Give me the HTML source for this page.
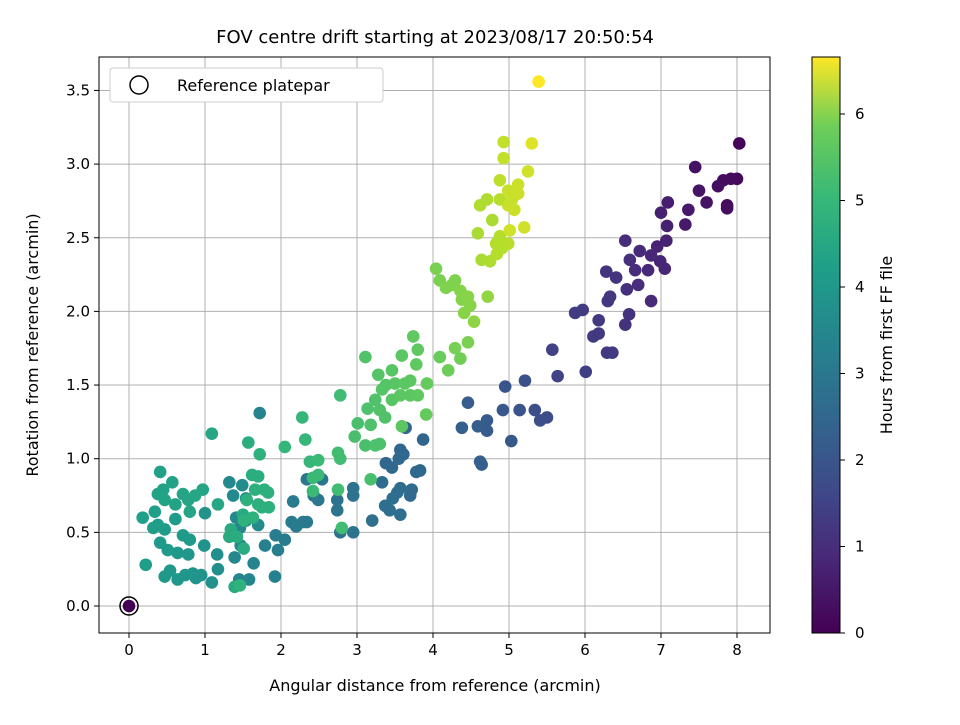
<!DOCTYPE html>
<html><head><meta charset="utf-8"><style>body{margin:0;background:#fff}svg{font-family:"DejaVu Sans","Liberation Sans",sans-serif}</style></head>
<body>
<svg id="chart" width="960" height="720">
<defs><linearGradient id="vir" x1="0" y1="1" x2="0" y2="0">
<stop offset="0" stop-color="#440154"/><stop offset="0.13" stop-color="#482878"/><stop offset="0.25" stop-color="#3e4a89"/><stop offset="0.38" stop-color="#31688e"/><stop offset="0.5" stop-color="#26828e"/><stop offset="0.63" stop-color="#1f9e89"/><stop offset="0.75" stop-color="#35b779"/><stop offset="0.88" stop-color="#6ece58"/><stop offset="1" stop-color="#fde725"/></linearGradient></defs>
<g id="grid"></g>
<g id="pts"></g>
<rect x="99" y="57" width="671" height="576" fill="none" stroke="#000" stroke-width="1"/>
<g id="axes"></g>
<text x="435" y="43" font-size="18" text-anchor="middle">FOV centre drift starting at 2023/08/17 20:50:54</text>
<text x="435" y="691" font-size="16" text-anchor="middle">Angular distance from reference (arcmin)</text>
<text x="38" y="345" font-size="16" text-anchor="middle" transform="rotate(-90 38 345)">Rotation from reference (arcmin)</text>
<g>
<rect x="110" y="68" width="273" height="34" fill="#fff" stroke="#ccc" rx="3"/>
<circle cx="139" cy="85" r="9" fill="none" stroke="#000" stroke-width="1.5"/>
<text x="177" y="91" font-size="16">Reference platepar</text>
</g>
<rect x="812" y="57" width="28" height="576" fill="url(#vir)" stroke="#000"/>
<g id="cbar"></g>
<text x="892" y="345" font-size="16" text-anchor="middle" transform="rotate(-90 892 345)">Hours from first FF file</text>
</svg>
<script>
const xTicks=[0,1,2,3,4,5,6,7,8];
const yTicks=[0,0.5,1,1.5,2,2.5,3,3.5];
const yTickLabels=["0.0","0.5","1.0","1.5","2.0","2.5","3.0","3.5"];
const cTicks=[0,1,2,3,4,5,6];
const xs=[8.03,8.0,7.92,7.82,7.75,7.87,7.87,7.6,7.5,7.45,7.36,7.32,7.09,7.0,7.08,7.07,7.05,6.99,6.95,6.87,6.83,6.87,6.72,6.66,6.7,6.55,6.58,6.53,6.53,6.59,6.41,6.33,6.3,6.28,6.36,6.29,6.18,6.11,6.18,6.01,5.97,5.87,5.64,5.57,5.5,5.41,5.34,5.14,5.21,5.03,4.95,4.92,4.71,4.71,4.59,4.64,4.62,4.46,4.38,
3.64,3.57,3.61,3.55,3.38,3.46,3.87,3.83,3.78,3.72,3.7,3.57,3.53,3.47,3.57,3.43,3.33,3.37,3.2,2.95,2.95,2.95,2.78,2.74,2.74,2.54,2.43,2.49,2.34,2.34,2.29,2.2,2.14,2.16,2.05,1.96,1.93,1.79,1.92,
1.72,1.64,1.58,1.45,1.39,1.47,1.46,1.41,1.37,1.32,1.49,1.54,1.54,1.7,1.16,1.17,1.09,0.99,1.0,0.95,0.88,0.84,0.74,0.64,0.54,0.47,0.78,0.64,0.51,0.41,0.8,0.71,0.47,0.61,0.38,0.32,0.22,0.18,0.34,0.41,0.57,0.45,0.38,0.47,0.61,0.71,0.78,0.8,0.97,0.87,1.09,1.17,
1.5,1.34,1.32,1.42,1.51,1.39,1.57,1.62,1.7,1.66,1.78,1.83,1.75,1.84,1.7,1.63,1.55,1.51,1.72,1.46,2.05,2.28,2.32,2.38,2.42,2.49,2.49,2.42,2.78,2.75,2.78,2.75,2.8,2.97,3.01,3.14,3.11,3.11,3.18,3.24,3.3,3.18,3.24,3.3,3.37,3.28,3.33,3.38,3.46,3.5,3.46,3.57,3.59,3.63,3.7,3.7,3.59,3.78,3.74,3.8,3.8,3.92,3.91,4.09,4.04,4.09,4.25,4.29,4.17,4.36,4.38,4.46,4.49,4.41,4.54,4.29,4.46,4.36,4.2,4.72,
4.59,4.62,4.71,4.78,4.64,4.75,4.83,4.88,4.91,4.84,4.99,4.88,4.88,4.93,4.93,4.99,4.99,5.04,5.12,5.12,5.07,5.25,5.2,5.01,5.3,5.39,0];
const ys=[3.14,2.9,2.9,2.89,2.85,2.72,2.7,2.74,2.82,2.98,2.69,2.59,2.74,2.67,2.58,2.48,2.29,2.34,2.44,2.38,2.28,2.07,2.41,2.28,2.18,2.15,1.98,1.91,2.48,2.35,2.23,2.1,2.07,2.27,1.72,1.72,1.94,1.83,1.85,1.59,2.01,1.99,1.56,1.74,1.28,1.26,1.33,1.33,1.53,1.12,1.49,1.33,1.26,1.19,1.22,0.96,0.98,1.38,1.21,
1.21,1.06,1.03,1.0,0.97,0.94,1.13,0.92,0.91,0.79,0.75,0.8,0.77,0.73,0.62,0.65,0.84,0.68,0.58,0.8,0.75,0.5,0.5,0.72,0.65,0.86,0.75,0.72,0.86,0.57,0.57,0.54,0.57,0.71,0.45,0.38,0.48,0.41,0.2,
1.31,0.29,0.18,0.18,0.33,0.41,0.53,0.6,0.75,0.84,0.82,0.73,0.58,0.55,0.35,0.25,0.16,0.41,0.63,0.21,0.19,0.22,0.21,0.18,0.24,0.2,0.35,0.36,0.38,0.43,0.45,0.48,0.52,0.59,0.55,0.53,0.28,0.6,0.64,0.91,0.84,0.79,0.76,0.72,0.69,0.76,0.72,0.64,0.79,0.75,1.17,0.69,
0.62,0.52,0.47,0.47,0.39,0.13,1.11,0.89,0.88,0.79,0.79,0.77,0.67,0.67,0.69,0.6,0.72,0.58,1.03,0.14,1.08,1.28,1.13,0.98,0.87,0.99,0.89,0.78,1.43,1.04,1.0,0.79,0.53,1.15,1.24,1.34,1.69,1.09,0.86,1.09,1.1,1.23,1.4,1.33,1.28,1.57,1.47,1.5,1.6,1.51,1.4,1.43,1.7,1.51,1.53,1.43,1.22,1.64,1.83,1.74,1.43,1.51,1.3,1.69,2.29,2.21,2.18,2.21,2.16,2.14,2.08,2.1,2.04,1.99,1.93,1.75,1.79,1.68,1.6,2.1,
2.53,2.72,2.76,2.62,2.35,2.34,2.46,2.51,2.43,2.39,2.46,2.76,2.89,3.15,3.04,2.72,2.82,2.76,2.86,2.8,2.69,2.95,2.57,2.55,3.14,3.56,0];
const hrs=[0.1,0.15,0.2,0.2,0.25,0.2,0.25,0.35,0.35,0.3,0.45,0.45,0.55,0.6,0.6,0.65,0.7,0.7,0.65,0.75,0.75,0.8,0.8,0.85,0.85,0.9,0.95,0.95,0.85,0.9,1.0,1.05,1.05,1.0,1.15,1.15,1.1,1.15,1.1,1.25,1.15,1.2,1.35,1.3,1.55,1.6,1.6,1.7,1.65,1.8,1.75,1.8,1.9,1.9,1.95,2.0,2.0,1.95,2.0,
2.2,2.2,2.2,2.25,2.25,2.25,2.15,2.2,2.25,2.3,2.3,2.35,2.35,2.4,2.4,2.4,2.35,2.4,2.45,2.5,2.5,2.55,2.55,2.55,2.55,2.6,2.65,2.65,2.65,2.7,2.7,2.75,2.75,2.75,2.8,2.85,2.85,2.9,2.9,
3.0,3.0,3.05,3.05,3.1,3.1,3.1,3.15,3.15,3.15,3.2,3.2,3.2,3.2,3.3,3.3,3.35,3.4,3.4,3.4,3.45,3.45,3.5,3.5,3.55,3.55,3.5,3.55,3.6,3.6,3.6,3.65,3.65,3.65,3.7,3.7,3.7,3.75,3.75,3.8,3.8,3.8,3.85,3.85,3.85,3.9,3.9,3.9,3.9,3.95,3.95,3.95,
4.05,4.05,4.05,4.1,4.1,4.1,4.15,4.15,4.15,4.2,4.2,4.2,4.2,4.2,4.2,4.25,4.25,4.25,4.25,4.3,4.4,4.45,4.45,4.45,4.5,4.5,4.5,4.5,4.6,4.6,4.6,4.6,4.6,4.7,4.7,4.75,4.8,4.7,4.7,4.75,4.75,4.75,4.8,4.8,4.8,4.85,4.85,4.85,4.9,4.9,4.9,4.95,4.95,4.95,4.95,4.95,4.95,5.0,5.0,5.0,5.0,5.05,5.05,5.1,5.3,5.3,5.35,5.35,5.35,5.4,5.4,5.45,5.45,5.45,5.5,5.25,5.3,5.2,5.15,5.55,
5.8,5.85,5.85,5.8,5.8,5.85,5.9,5.9,5.9,5.9,5.95,5.95,6.0,6.05,6.05,6.1,6.1,6.1,6.15,6.15,6.15,6.2,6.2,6.2,6.35,6.65,0];
const NS='http://www.w3.org/2000/svg';
const X0=99,X1=770,Y0=57,Y1=633;
function sx(v){return 129+v*76;}
function sy(v){return 606-v*147.3;}
function sc(h){return 633-h*86.5;}
const vstops=[[68,1,84],[72,40,120],[62,74,137],[49,104,142],[38,130,142],[31,158,137],[53,183,121],[110,206,88],[181,222,43],[253,231,37]];
function vir(t){t=Math.max(0,Math.min(1,t))*(vstops.length-1);const i=Math.min(Math.floor(t),vstops.length-2),f=t-i;const a=vstops[i],b=vstops[i+1];return 'rgb('+a.map((c,k)=>Math.round(c+(b[k]-c)*f)).join(',')+')';}
function mk(tag,at,parent){const e=document.createElementNS(NS,tag);for(const k in at)e.setAttribute(k,at[k]);parent.appendChild(e);return e;}
const grid=document.getElementById('grid'),axes=document.getElementById('axes'),pts=document.getElementById('pts'),cbar=document.getElementById('cbar');
xTicks.forEach(v=>{const x=sx(v);
const g=mk('line',{x1:x,x2:x,y1:Y0,y2:Y1,stroke:'#b0b0b0','stroke-width':1},grid);


const t=mk('line',{x1:x,x2:x,y1:Y1,y2:Y1+5,stroke:'#000'},axes);


const l=mk('text',{x:x,y:Y1+22,'font-size':15,'text-anchor':'middle'},axes);l.textContent=v;

});
yTicks.forEach((v,i)=>{const y=sy(v);
const g=mk('line',{x1:X0,x2:X1,y1:y,y2:y,stroke:'#b0b0b0','stroke-width':1},grid);


const t=mk('line',{x1:X0-5,x2:X0,y1:y,y2:y,stroke:'#000'},axes);


const l=mk('text',{x:X0-9,y:y+5,'font-size':15,'text-anchor':'end'},axes);l.textContent=yTickLabels[i];

});
const HMAX=6.66;
xs.forEach((x,i)=>{const c=mk('circle',{cx:sx(x),cy:sy(ys[i]),r:6.3,fill:vir(hrs[i]/HMAX)},pts);

});
const ref=mk('circle',{cx:sx(0),cy:sy(0),r:9,fill:'none',stroke:'#000','stroke-width':1.5},pts);


cTicks.forEach(v=>{const y=sc(v);
const t=mk('line',{x1:840,x2:845,y1:y,y2:y,stroke:'#000'},cbar);


const l=mk('text',{x:855,y:y+5,'font-size':15},cbar);l.textContent=v;

});
</script>
</body></html>
